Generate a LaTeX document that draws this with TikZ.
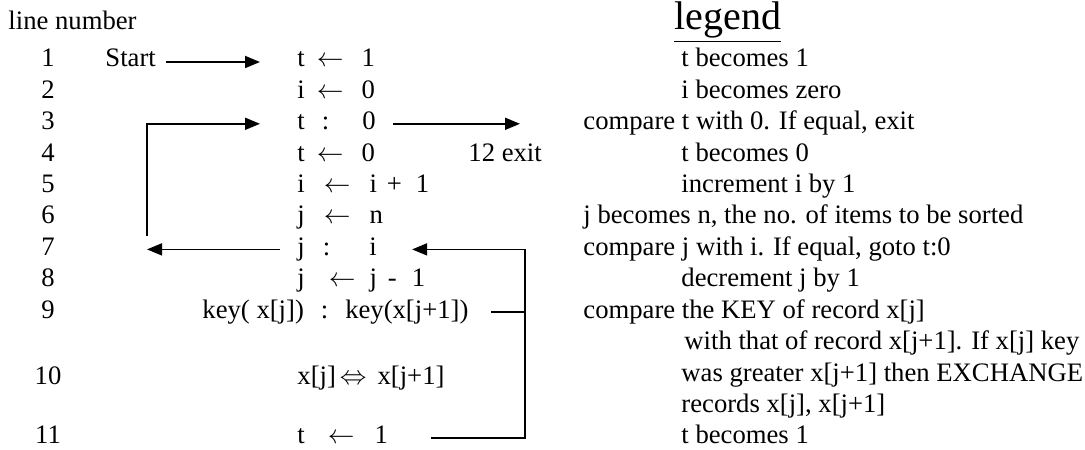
\documentclass[tikz,border=0pt]{standalone}
\usepackage{fontspec}
\setmainfont{Liberation Serif}
\usetikzlibrary{arrows.meta,calc}
\newlength{\pxu}
\setlength{\pxu}{0.45pt}
\newcommand{\gap}[1]{\hspace*{#1\pxu}}
\tikzset{
  lnum/.style = {anchor=base, inner sep=0pt},
  code/.style = {anchor=base west, inner sep=0pt},
  note/.style = {anchor=base west, inner sep=0pt},
  flow/.style = {line width=0.8pt, -{Triangle[length=6.75pt,width=5.4pt]}},
  wire/.style = {line width=0.8pt},
}

\begin{document}
\begin{tikzpicture}[x=0.45pt, y=-0.45pt, font=\fontsize{12}{14}\selectfont]
\useasboundingbox (0,0) rectangle (1085,450);

%── headings ──────────────────────────────────────────────
\node[note] (title) at (8,30) {line number};
\node[note, font=\fontsize{18}{20}\selectfont] (legtitle) at (674,30) {\underline{legend}};

%── line numbers ──────────────────────────────────────────
\foreach \k in {1,...,9}{
  \node[lnum] (n\k) at (48,{67+31.4*(\k-1)}) {\k};
}
\node[lnum] (n10) at (48,384)   {10};
\node[lnum] (n11) at (48,443.8) {11};

%── program lines ─────────────────────────────────────────
\node[code] (start) at (105,67) {Start};
\node[code] (c1)  at (297,67)    {t\gap{12}$\leftarrow$\gap{18}1};
\node[code] (c2)  at (297,98.4)  {i\gap{12}$\leftarrow$\gap{18}0};
\node[code] (c3)  at (297,129.8) {t\gap{17}:\gap{33}0};
\node[code] (c4)  at (297,161.2) {t\gap{12}$\leftarrow$\gap{18}0};
\node[code] (exit) at (468,161.2) {12 exit};
\node[code] (c5)  at (297,192.6) {i\gap{19}$\leftarrow$\gap{19}i\gap{10}+\gap{14}1};
\node[code] (c6)  at (297,224)   {j\gap{19}$\leftarrow$\gap{19}n};
\node[code] (c7)  at (297,255.4) {j\gap{18}:\gap{39}i};
\node[code] (c8)  at (297,286.8) {j\gap{24}$\leftarrow$\gap{14}j\gap{11}-\gap{15}1};
\node[code] (c9)  at (202,318.2) {key( x[j])\gap{17}:\gap{17}key(x[j+1])};
\node[code] (c10) at (297,384)   {x[j]\gap{4}$\Leftrightarrow$\gap{11}x[j+1]};
\node[code] (c11) at (297,443.8) {t\gap{23}$\leftarrow$\gap{20}1};

%── legend ────────────────────────────────────────────────
\node[note] (l1)  at (681,67)    {t becomes 1};
\node[note] (l2)  at (681,98.4)  {i becomes zero};
\node[note] (l3)  at (583,129.8) {compare t with 0. If equal, exit};
\node[note] (l4)  at (681,161.2) {t becomes 0};
\node[note] (l5)  at (681,192.6) {increment i by 1};
\node[note] (l6)  at (583,224)   {j becomes n, the no. of items to be sorted};
\node[note] (l7)  at (583,255.4) {compare j with i. If equal, goto t:0};
\node[note] (l8)  at (681,286.8) {decrement j by 1};
\node[note] (l9)  at (583,318.2) {compare the KEY of record x[j]};
\node[note] (l10) at (684,349.6) {with that of record x[j+1]. If x[j] key};
\node[note] (l11) at (681,381)   {was greater x[j+1] then EXCHANGE};
\node[note] (l12) at (681,412.4) {records x[j], x[j+1]};
\node[note] (l13) at (681,443.8) {t becomes 1};

%── flow ──────────────────────────────────────────────────
\draw[flow] ($(start.base east)+(10,-5)$) -- ($(c1.base west)+(-37,-5)$);
\draw[flow] ($(c3.base east)+(17,-6)$) -- ($(l3.base west)+(-63,-6)$);
% back to t:0 when j = i
\coordinate (loopfoot) at (147,236);
\draw[flow] ($(c7.base west)+(-17,-6)$) -- ($(c7.base west)+(-150,-6)$);
\draw[flow] (loopfoot) |- ($(c3.base west)+(-37,-6)$);
% inner loop back to j:i
\coordinate (brk) at (525,249.4);
\draw[flow] ($(c11.base east)+(43,-6)$) -| (brk) -- ($(c7.base east)+(35,-6)$);
\coordinate (k9) at ($(c9.base east)+(22,-6)$);
\draw[wire] (k9) -- (k9 -| brk);
\end{tikzpicture}
\end{document}
